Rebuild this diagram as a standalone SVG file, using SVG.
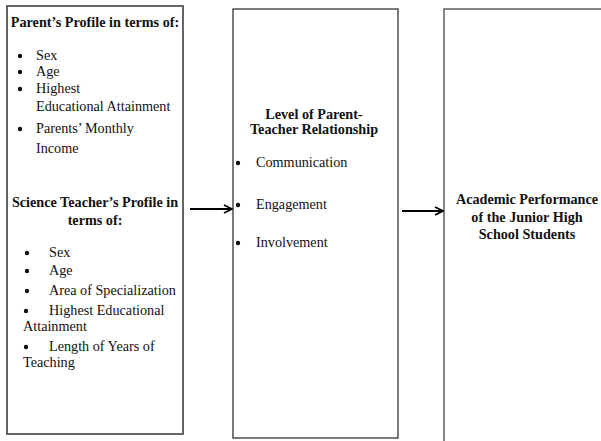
<svg xmlns="http://www.w3.org/2000/svg" width="601" height="441" viewBox="0 0 601 441">
<style>
text{font-family:"Liberation Serif","Times New Roman",serif;font-size:14.2px;fill:#111}
.b{font-weight:bold}
.c{text-anchor:middle}
.box{fill:#fff;stroke:#333;stroke-width:1.3}
.dot{fill:#111}
.con{stroke:#000;stroke-width:1.8;fill:none}
</style>
<defs>
<marker id="ah" viewBox="0 0 10 10" refX="9" refY="5" markerWidth="10" markerHeight="10" markerUnits="userSpaceOnUse" orient="auto">
<path d="M1,1 L9,5 L1,9" fill="none" stroke="#000" stroke-width="1.8"/>
</marker>
</defs>
<g id="node-profiles">
<rect class="box" x="7" y="6" width="176" height="428" style="stroke:#555;stroke-width:1.8"/>
<text class="b c" x="95" y="27">Parent’s Profile in terms of:</text>
<circle class="dot" cx="20" cy="56" r="2.2"/><text x="36" y="60">Sex</text>
<circle class="dot" cx="20" cy="72" r="2.2"/><text x="36" y="76">Age</text>
<circle class="dot" cx="20" cy="89" r="2.2"/><text x="36" y="93">Highest</text>
<text x="36" y="111">Educational Attainment</text>
<circle class="dot" cx="20" cy="129" r="2.2"/><text x="36" y="133">Parents’ Monthly</text>
<text x="36" y="153">Income</text>
<text class="b c" x="95" y="207">Science Teacher’s Profile in</text>
<text class="b c" x="95" y="225">terms of:</text>
<circle class="dot" cx="27" cy="253" r="2.2"/><text x="49" y="257">Sex</text>
<circle class="dot" cx="27" cy="271" r="2.2"/><text x="49" y="275">Age</text>
<circle class="dot" cx="27" cy="291" r="2.2"/><text x="49" y="295">Area of Specialization</text>
<circle class="dot" cx="26" cy="311" r="2.2"/><text x="49" y="315">Highest Educational</text>
<text x="23" y="331">Attainment</text>
<circle class="dot" cx="26" cy="347" r="2.2"/><text x="49" y="351">Length of Years of</text>
<text x="23" y="367">Teaching</text>
</g>
<g id="node-relationship">
<rect class="box" x="233" y="9" width="165" height="429"/>
<text class="b c" x="314" y="119">Level of Parent-</text>
<text class="b c" x="314" y="134">Teacher Relationship</text>
<circle class="dot" cx="238" cy="163" r="2.2"/><text x="256" y="167">Communication</text>
<circle class="dot" cx="238" cy="205" r="2.2"/><text x="256" y="209">Engagement</text>
<circle class="dot" cx="238" cy="243" r="2.2"/><text x="256" y="247">Involvement</text>
</g>
<g id="node-performance">
<rect class="box" x="444" y="9" width="170" height="440" style="stroke:#444"/>
<text class="b c" x="527" y="204">Academic Performance</text>
<text class="b c" x="527" y="222">of the Junior High</text>
<text class="b c" x="527" y="239">School Students</text>
</g>
<g id="connectors">
<line class="con" x1="190" y1="209" x2="232" y2="209" marker-end="url(#ah)"/>
<line class="con" x1="402" y1="211" x2="443" y2="211" marker-end="url(#ah)"/>
</g>
</svg>
